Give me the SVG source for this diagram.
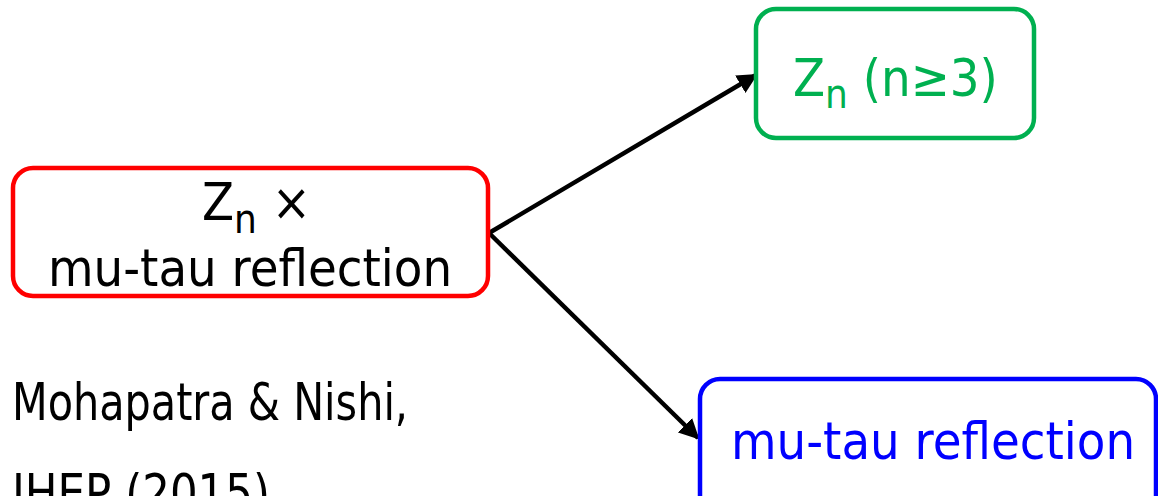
<svg xmlns="http://www.w3.org/2000/svg" width="1158" height="496" viewBox="0 0 1158 496">
<style>
text{font-family:"DejaVu Sans Condensed","DejaVu Sans",sans-serif;font-size:52px}
.box{fill:none;stroke-width:4.5}
.sub{font-size:40px}
.conn{stroke:#000;stroke-width:4.5;fill:none}
</style>
<defs>
<marker id="ah" viewBox="0 0 10 10" refX="9" refY="5" markerWidth="4.5" markerHeight="4.5" orient="auto" markerUnits="strokeWidth">
<path d="M0,0 L10,5 L0,10 z" fill="#000"/>
</marker>
</defs>
<rect width="1158" height="496" fill="#fff"/>
<g id="connectors">
<line class="conn" x1="489" y1="233" x2="756" y2="75" marker-end="url(#ah)"/>
<line class="conn" x1="489" y1="233" x2="698" y2="438" marker-end="url(#ah)"/>
</g>
<g id="node-zn-mutau">
<rect class="box" x="13" y="168" width="475" height="128" rx="20" stroke="#FF0000"/>
<text x="202" y="220">Z<tspan class="sub" dy="13">n</tspan><tspan dy="-13"> ×</tspan></text>
<text x="250" y="286" text-anchor="middle">mu-tau reflection</text>
</g>
<g id="node-zn">
<rect class="box" x="756" y="9" width="278" height="129" rx="20" stroke="#00B050"/>
<text x="793" y="96" fill="#00B050">Z<tspan class="sub" dy="12">n</tspan><tspan dy="-12"> (n≥3)</tspan></text>
</g>
<g id="node-mutau">
<rect class="box" x="700" y="379" width="456" height="140" rx="20" stroke="#0000FF"/>
<text x="933" y="459" text-anchor="middle" fill="#0000FF">mu-tau reflection</text>
</g>
<g id="reference">
<text x="12" y="420" textLength="396" lengthAdjust="spacingAndGlyphs">Mohapatra &amp; Nishi,</text>
<text x="12" y="511" textLength="258" lengthAdjust="spacingAndGlyphs">JHEP (2015)</text>
</g>
</svg>
